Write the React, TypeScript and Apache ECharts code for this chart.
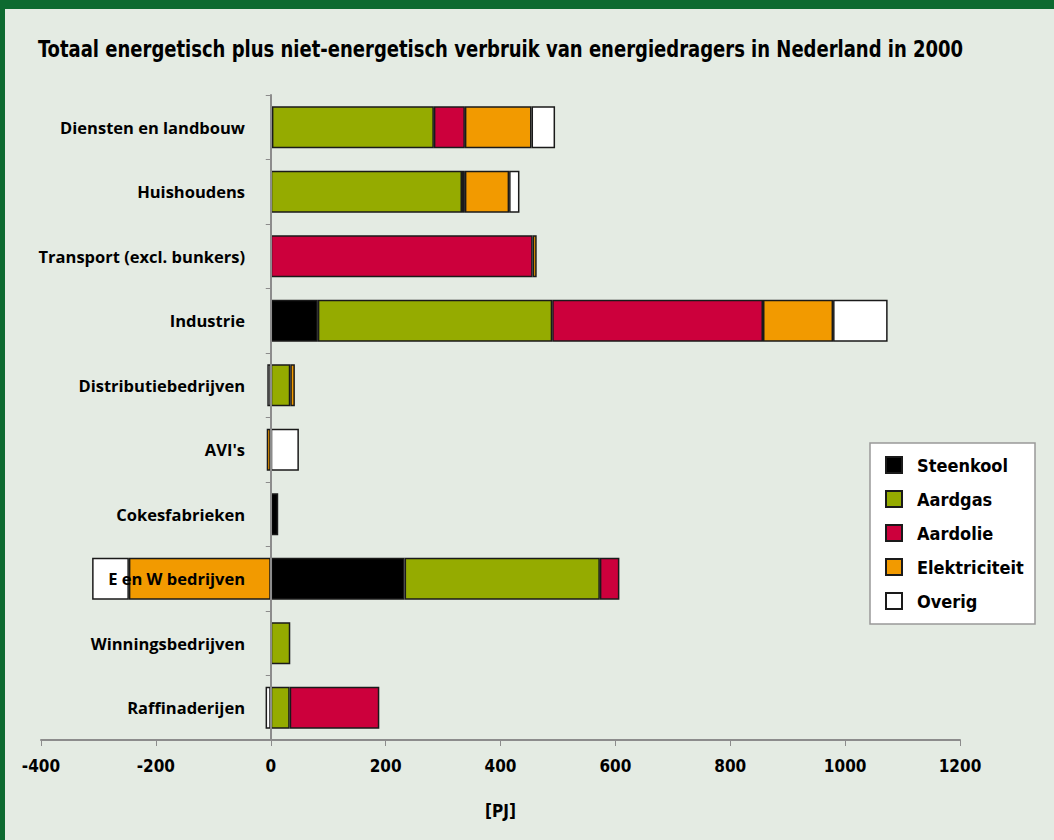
import React, { useEffect, useRef } from "react";
import * as echarts from "echarts";

const categories = [
  "Diensten en landbouw",
  "Huishoudens",
  "Transport (excl. bunkers)",
  "Industrie",
  "Distributiebedrijven",
  "AVI's",
  "Cokesfabrieken",
  "E en W bedrijven",
  "Winningsbedrijven",
  "Raffinaderijen",
];

const seriesNames = ["Steenkool", "Aardgas", "Aardolie", "Elektriciteit", "Overig"];

const steenkool = [2, "-", "-", 82, "-", "-", 13, 233, "-", "-"];
const aardgas = [282, 333, "-", 408, 34, "-", "-", 340, 34, 33];
const aardolie = [54, 5, 456, 367, "-", "-", "-", 34, "-", 156];
const elektriciteit = [116, 77, 7, 122, 8, -7, "-", -247, "-", "-"];
const overig = [41, 18, "-", 95, -6, 49, "-", -64, "-", -9];

const xTicks = { min: -400, max: 1200, interval: 200 };

const titleText =
  "Totaal energetisch plus niet-energetisch verbruik van energiedragers in Nederland in 2000";

const colors = ["#000000", "#95ab00", "#cc003c", "#f29a00", "#ffffff"];

const condensed = "'DejaVu Sans Condensed', sans-serif";

export default function App() {
  const ref = useRef<HTMLDivElement>(null);

  useEffect(() => {
    if (!ref.current) return;
    const chart = echarts.init(ref.current, null, { renderer: "svg" });
    const values = [steenkool, aardgas, aardolie, elektriciteit, overig];
    chart.setOption({
      animation: false,
      backgroundColor: "#e4ebe3",
      graphic: [
        { type: "rect", shape: { x: 0, y: 0, width: 1054, height: 9 }, style: { fill: "#0d6a30" }, z: 0 },
        { type: "rect", shape: { x: 0, y: 0, width: 5, height: 840 }, style: { fill: "#0d6a30" }, z: 0 },
        {
          type: "text",
          x: 38,
          y: 49,
          scaleX: 0.87,
          style: {
            text: titleText,
            fontFamily: condensed,
            fontWeight: "bold",
            fontSize: 23,
            fill: "#000",
            textVerticalAlign: "middle",
          },
          z: 5,
        },
        {
          type: "rect",
          shape: { x: 870, y: 443, width: 165, height: 181 },
          style: { fill: "#ffffff", stroke: "#999999", lineWidth: 1.5 },
          z: 0,
        },
      ],
      legend: {
        orient: "vertical",
        left: 871,
        top: 446,
        z: 10,
        itemWidth: 16,
        itemHeight: 16,
        itemGap: 16,
        padding: [10, 8, 8, 14],
        icon: "rect",
        data: seriesNames,
        textStyle: {
          fontFamily: condensed,
          fontWeight: "bold",
          fontSize: 18,
          color: "#000",
          lineHeight: 18,
          padding: [0, 0, 0, 10],
        },
      },
      grid: { left: 41, right: 94, top: 95, bottom: 100, containLabel: false, outerBoundsMode: "none" },
      xAxis: {
        type: "value",
        min: xTicks.min,
        max: xTicks.max,
        interval: xTicks.interval,
        splitLine: { show: false },
        axisLine: { show: true, onZero: false, lineStyle: { color: "#8c8c8c", width: 2 } },
        axisTick: { show: true, length: 6, lineStyle: { color: "#8c8c8c", width: 1 } },
        axisLabel: {
          margin: 17,
          fontFamily: condensed,
          fontWeight: "bold",
          fontSize: 17,
          color: "#000",
          formatter: (v: number) => String(v),
        },
        name: "[PJ]",
        nameLocation: "middle",
        nameGap: 62,
        nameTextStyle: {
          fontFamily: condensed,
          fontWeight: "bold",
          fontSize: 17,
          color: "#000",
        },
      },
      yAxis: {
        type: "category",
        inverse: true,
        data: categories,
        z: 10,
        axisLine: { show: true, onZero: true, lineStyle: { color: "#8c8c8c", width: 2 } },
        axisTick: { show: true, length: 5, lineStyle: { color: "#8c8c8c", width: 1 } },
        axisLabel: {
          margin: -204,
          fontFamily: "'Open Sans', sans-serif",
          fontWeight: "bold",
          fontSize: 16.5,
          color: "#000",
        },
      },
      series: seriesNames.map((name, i) => ({
        name,
        type: "bar",
        stack: "total",
        barWidth: 42,
        data: values[i],
        itemStyle: {
          color: colors[i],
          borderColor: "#1a1a1a",
          borderWidth: 1.5,
        },
      })),
    });
    return () => chart.dispose();
  }, []);

  return (
    <div
      ref={ref}
      style={{ position: "fixed", left: 0, top: 0, width: 1054, height: 840 }}
    />
  );
}
